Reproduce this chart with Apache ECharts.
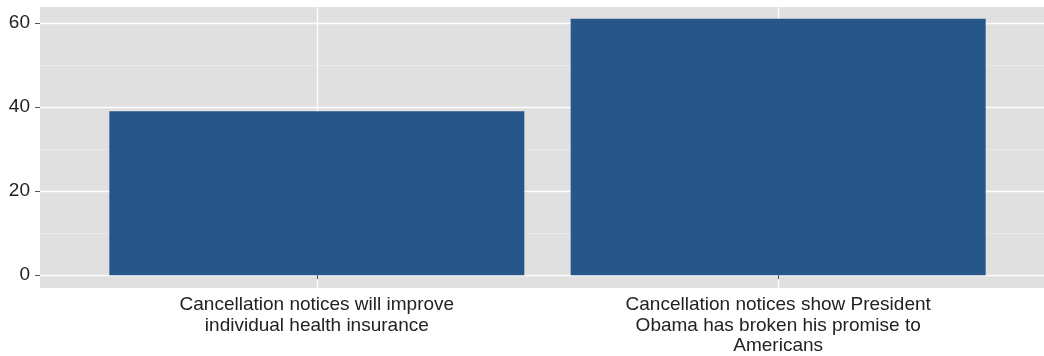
<!DOCTYPE html>
<html>
<head>
<meta charset="utf-8">
<script src="https://cdn.jsdelivr.net/npm/echarts@6/dist/echarts.min.js"></script>
<style>
html,body{margin:0;padding:0;background:#fff;}
#c{width:1044px;height:356px;}
</style>
</head>
<body>
<div id="c"></div>
<script>
var categories = [
  "Cancellation notices will improve\nindividual health insurance",
  "Cancellation notices show President\nObama has broken his promise to\nAmericans"
];
var values = [39, 61];
var yTicks = [0, 20, 40, 60];
var yMinorTicks = [10, 30, 50];
var xPositions = [1, 2];

var chart = echarts.init(document.getElementById('c'), null, {renderer: 'canvas'});
var FONT = '"Liberation Sans", Arial, sans-serif';
var yMin = -3.05, yMax = 63.8;

chart.setOption({
  animation: false,
  backgroundColor: '#ffffff',
  grid: {
    left: 40, top: 7, width: 1015, height: 281,
    containLabel: false, outerBoundsMode: 'none',
    show: true, backgroundColor: '#e0e0e0', borderWidth: 0
  },
  xAxis: {
    type: 'value', min: 0.4, max: 2.6,
    axisLine: {show: false},
    axisTick: {show: true, length: 4, customValues: xPositions, lineStyle: {color: '#555', width: 1}},
    axisLabel: {
      customValues: xPositions, margin: 7,
      fontFamily: FONT, fontSize: 19, color: '#222', lineHeight: 20.5, align: 'center',
      formatter: function (v) { return categories[Math.round(v) - 1] || ''; }
    },
    splitLine: {show: true, lineStyle: {color: '#ffffff', width: 1.3}}
  },
  yAxis: [{
    type: 'value', min: yMin, max: yMax,
    axisLine: {show: false},
    axisTick: {show: true, length: 5, customValues: yTicks, lineStyle: {color: '#555', width: 1}},
    axisLabel: {customValues: yTicks, margin: 10, fontFamily: FONT, fontSize: 19, color: '#222'},
    splitLine: {show: true, lineStyle: {color: '#ffffff', width: 1.3}}
  }, {
    type: 'value', min: yMin, max: yMax, position: 'left',
    axisLine: {show: false},
    axisTick: {show: false, customValues: yMinorTicks},
    axisLabel: {show: false, customValues: yMinorTicks},
    splitLine: {show: true, lineStyle: {color: '#ebebeb', width: 0.8}}
  }],
  series: [{
    type: 'bar',
    xAxisIndex: 0, yAxisIndex: 0,
    barWidth: 415,
    itemStyle: {color: '#27568a'},
    data: values.map(function (v, i) { return [xPositions[i], v]; }),
    z: 3
  }]
});
</script>
</body>
</html>
